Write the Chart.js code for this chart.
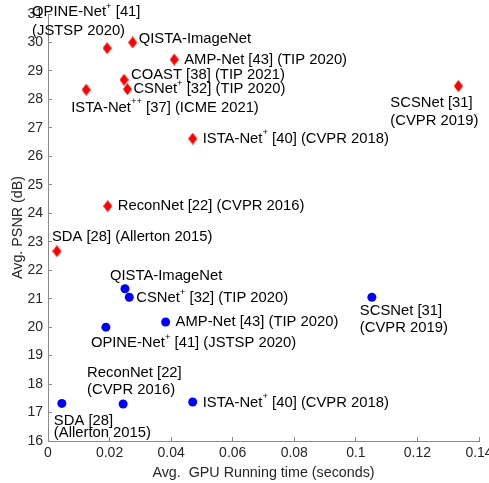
<!DOCTYPE html>
<html>
<head>
<meta charset="utf-8">
<title>PSNR vs GPU running time</title>
<script src="https://cdn.jsdelivr.net/npm/chart.js@4.4.1/dist/chart.umd.min.js"></script>
<style>
  html, body { margin: 0; padding: 0; background: #fff; }
  #wrap { width: 489px; height: 483px; }
</style>
</head>
<body>
<div id="wrap"><canvas id="chart" width="489" height="483"></canvas></div>
<script>
// ── Data ──
// red diamonds (upper group)
var redNames = ['OPINE-Net+', 'QISTA-ImageNet', 'AMP-Net', 'COAST', 'CSNet+', 'ISTA-Net++', 'SCSNet', 'ISTA-Net+', 'ReconNet', 'SDA'];
var redTime = [0.0192, 0.0275, 0.0410, 0.0247, 0.0258, 0.0124, 0.1333, 0.0470, 0.0194, 0.0029];
var redPsnr = [29.80, 30.00, 29.40, 28.69, 28.36, 28.34, 28.47, 26.62, 24.25, 22.67];
var redLabels = [
  ['OPINE-Net{+} [41]', '(JSTSP 2020)'],
  ['QISTA-ImageNet'],
  ['AMP-Net [43] (TIP 2020)'],
  ['COAST [38] (TIP 2021)'],
  ['CSNet{+} [32] (TIP 2020)'],
  ['ISTA-Net{++} [37] (ICME 2021)'],
  ['SCSNet [31]', '(CVPR 2019)'],
  ['ISTA-Net{+} [40] (CVPR 2018)'],
  ['ReconNet [22] (CVPR 2016)'],
  ['SDA [28] (Allerton 2015)']
];

// blue circles (lower group)
var blueNames = ['QISTA-ImageNet', 'CSNet+', 'AMP-Net', 'OPINE-Net+', 'ReconNet', 'SDA', 'ISTA-Net+', 'SCSNet'];
var blueTime = [0.0250, 0.0264, 0.0382, 0.0188, 0.0244, 0.0045, 0.0470, 0.1052];
var bluePsnr = [21.35, 21.05, 20.18, 20.00, 17.30, 17.32, 17.37, 21.05];
var blueLabels = [
  ['QISTA-ImageNet'],
  ['CSNet{+} [32] (TIP 2020)'],
  ['AMP-Net [43] (TIP 2020)'],
  ['OPINE-Net{+} [41] (JSTSP 2020)'],
  ['ReconNet [22]', '(CVPR 2016)'],
  ['SDA [28]', '(Allerton 2015)'],
  ['ISTA-Net{+} [40] (CVPR 2018)'],
  ['SCSNet [31]', '(CVPR 2019)']
];

var xTicks = [0, 0.02, 0.04, 0.06, 0.08, 0.1, 0.12, 0.14];

// ── Label layout: [dx, dy, line height] from the marker, in px ──
var redLabelPos = [
  [-75, -36, 19], [6, -4, 18], [10, 0, 18], [7, -5, 18], [6, 0, 18],
  [-15, 18, 18], [-68, 17, 18], [10, 0, 18], [10, 0, 18], [-5, -14, 18]
];
var blueLabelPos = [
  [-15, -13, 18], [7, 1, 18], [10, 0, 18], [-15, 16, 18],
  [-36, -31, 17], [-8, 17, 12.7], [10, 0.5, 18], [-12, 14, 16.6]
];

var FONT = '"Liberation Sans", Arial, sans-serif';
var AXIS = '#8a8a8a';
var TEXT = '#262626';

function points(xs, ys) {
  return xs.map(function(x, i) { return { x: x, y: ys[i] }; });
}

// MATLAB style diamond (taller than wide)
function diamond(w, h, color) {
  var c = document.createElement('canvas');
  c.width = w; c.height = h;
  var g = c.getContext('2d');
  g.fillStyle = color;
  g.beginPath();
  g.moveTo(w / 2, 0);
  g.lineTo(w, h / 2);
  g.lineTo(w / 2, h);
  g.lineTo(0, h / 2);
  g.closePath();
  g.fill();
  return c;
}

// text with {+} superscripts
function drawRich(ctx, str, x, y) {
  var parts = str.split(/(\{\+*\})/);
  parts.forEach(function(p) {
    if (!p) return;
    if (p.charAt(0) === '{') {
      var s = p.slice(1, -1);
      ctx.font = '9.5px ' + FONT;
      ctx.fillText(s, x, y - 6);
      x += ctx.measureText(s).width;
    } else {
      ctx.font = '14.8px ' + FONT;
      ctx.fillText(p, x, y);
      x += ctx.measureText(p).width;
    }
  });
}

var pointLabels = {
  id: 'pointLabels',
  afterDatasetsDraw: function(chart) {
    var ctx = chart.ctx;
    var sets = [[redLabels, redLabelPos], [blueLabels, blueLabelPos]];
    ctx.save();
    ctx.fillStyle = '#000';
    ctx.textBaseline = 'middle';
    ctx.textAlign = 'left';
    sets.forEach(function(s, di) {
      var meta = chart.getDatasetMeta(di);
      s[0].forEach(function(lines, i) {
        var el = meta.data[i];
        var pos = s[1][i];
        lines.forEach(function(line, li) {
          drawRich(ctx, line, el.x + pos[0], el.y + pos[1] + li * pos[2]);
        });
      });
    });
    ctx.restore();
  }
};

var fixX = function(scale) { scale.height = 42; scale.paddingLeft = 0; scale.paddingRight = 0; };
var fixY = function(scale) { scale.width = 48; scale.paddingTop = 0; scale.paddingBottom = 0; };

new Chart(document.getElementById('chart').getContext('2d'), {
  type: 'scatter',
  data: {
    datasets: [{
      label: 'red',
      data: points(redTime, redPsnr),
      pointStyle: diamond(9, 12, '#ff0000'),
      backgroundColor: '#ff0000'
    }, {
      label: 'blue',
      data: points(blueTime, bluePsnr),
      pointStyle: 'circle',
      radius: 4.5,
      borderWidth: 0,
      backgroundColor: '#0000ff'
    }]
  },
  options: {
    responsive: false,
    animation: false,
    layout: { padding: { top: 14, right: 10, bottom: 0, left: 0 } },
    plugins: { legend: { display: false }, tooltip: { enabled: false } },
    scales: {
      x: {
        type: 'linear', position: 'bottom', min: 0, max: 0.14,
        afterFit: fixX,
        afterBuildTicks: function(scale) { scale.ticks = xTicks.map(function(v) { return { value: v }; }); },
        grid: { drawOnChartArea: false, drawTicks: true, tickLength: -4, color: AXIS },
        border: { color: AXIS, width: 1 },
        ticks: {
          color: TEXT, padding: 8, maxRotation: 0, autoSkip: false,
          font: { family: FONT, size: 14 },
          callback: function(v) { return String(Number(v.toFixed(2))); }
        },
        title: {
          display: true, text: 'Avg.  GPU Running time (seconds)', color: TEXT,
          font: { family: FONT, size: 14.3 }, padding: { top: 0, bottom: 1 }
        }
      },
      y: {
        type: 'linear', min: 16, max: 31,
        afterFit: fixY,
        grid: { drawOnChartArea: false, drawTicks: true, tickLength: -4, color: AXIS },
        border: { color: AXIS, width: 1 },
        ticks: {
          color: TEXT, padding: 9, stepSize: 1,
          font: { family: FONT, size: 14 }
        },
        title: {
          display: true, text: 'Avg. PSNR (dB)', color: TEXT,
          font: { family: FONT, size: 14.3 }, padding: { top: 9, bottom: 0 }
        }
      }
    }
  },
  plugins: [pointLabels]
});
</script>
</body>
</html>
